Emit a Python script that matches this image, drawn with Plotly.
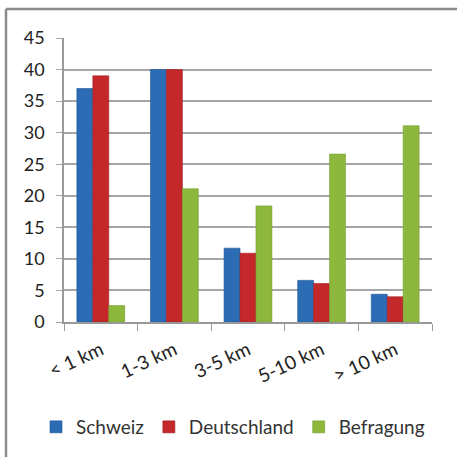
import plotly.graph_objects as go

categories = ["< 1 km", "1-3 km", "3-5 km", "5-10 km", "> 10 km"]
schweiz = [37.0, 40.0, 11.7, 6.6, 4.4]
deutschland = [39.0, 40.0, 10.9, 6.1, 4.0]
befragung = [2.6, 21.1, 18.4, 26.6, 31.1]
y_ticks = [0, 5, 10, 15, 20, 25, 30, 35, 40, 45]

W, H = 457, 457
L, R, T, B = 64, 25, 38, 135
pw, ph = W - L - R, H - T - B

def px_x(px):
    return (px - L) / pw

def px_y(py):
    return (H - B - py) / ph

font = "Lato, Calibri, 'Open Sans', sans-serif"

fig = go.Figure()
series = [("Schweiz", schweiz, "#2B6CB5", "#1F5597"),
          ("Deutschland", deutschland, "#C4282A", "#9E1F21"),
          ("Befragung", befragung, "#8DB83D", "#769E31")]
for name, vals, col, edge in series:
    fig.add_trace(go.Bar(name=name, x=categories, y=vals, marker=dict(color=col, line=dict(color=edge, width=0.6))))

fig.update_layout(
    width=W, height=H,
    margin=dict(l=L, r=R, t=T, b=B, autoexpand=False),
    barmode="group", bargap=0.35, bargroupgap=0,
    plot_bgcolor="white", paper_bgcolor="white",
    font=dict(family=font, color="#222", size=16),
    showlegend=True,
    legend=dict(orientation="h", x=px_x(36), xanchor="left", y=px_y(427), yanchor="middle",
                font=dict(size=19, family=font, color="#333"), itemwidth=30, traceorder="normal",
                bgcolor="rgba(0,0,0,0)"),
    xaxis=dict(showline=True, linecolor="#999", linewidth=1.5, ticks="outside", ticklen=7, tickcolor="#999",
               tickson="boundaries", tickangle=-25, ticklabelstandoff=8,
               tickfont=dict(size=19, family=font, color="#222")),
    yaxis=dict(range=[0, 45], tickvals=y_ticks, showgrid=True, gridcolor="#A6A6A6", gridwidth=1.5,
               showline=True, linecolor="#999", linewidth=1.5, ticks="outside", ticklen=6, tickcolor="#A6A6A6",
               ticklabelstandoff=8,
               tickfont=dict(size=18, family=font, color="#222"), zeroline=False),
    shapes=[
        dict(type="line", xref="paper", yref="paper", x0=px_x(6), x1=px_x(460), y0=px_y(9), y1=px_y(9),
             line=dict(color="#8C8C8C", width=2.5)),
        dict(type="line", xref="paper", yref="paper", x0=px_x(6), x1=px_x(6), y0=px_y(9), y1=px_y(460),
             line=dict(color="#8C8C8C", width=2.5)),
    ],
)

fig.write_html("out.html", config={"displayModeBar": False},
               post_script="document.body.style.margin='0';document.body.style.overflow='hidden';")
